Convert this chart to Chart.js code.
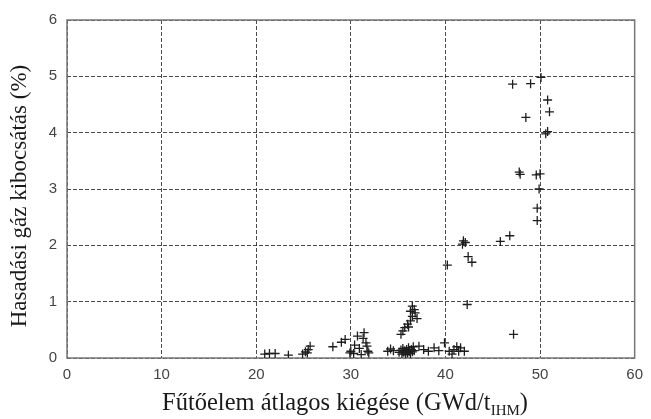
<!DOCTYPE html>
<html>
<head>
<meta charset="utf-8">
<script src="https://cdn.jsdelivr.net/npm/chart.js@4/dist/chart.umd.min.js"></script>
<style>
 html,body{margin:0;padding:0;background:#fff}
 #wrap{width:651px;height:419px}
</style>
</head>
<body>
<div id="wrap"><canvas id="fgr"></canvas></div>
<script>
// average burnup (GWd/tIHM) and fission gas release (%) per rod
const burnup=[
 20.9,21.4,22.0,23.4,24.9,25.2,25.5,25.7,25.4,
 28.1,29.0,29.4,29.9,30.0,30.4,30.7,30.9,31.1,31.4,31.6,31.7,31.8,31.9,30.3,31.3,
 33.9,34.2,34.5,
 35.1,35.3,35.4,35.5,35.6,35.7,35.8,35.9,36.0,36.1,36.2,36.3,36.4,36.5,36.6,36.7,35.5,36.0,
 35.3,35.5,35.7,36.0,36.3,36.5,36.3,36.7,36.5,36.8,37.0,36.1,
 37.2,37.7,38.2,38.8,39.3,39.9,40.4,40.7,40.9,41.4,41.6,42.0,41.2,
 42.3,40.2,41.9,42.1,41.8,42.4,42.8,45.8,46.8,47.2,
 49.7,49.7,49.9,49.6,50.0,47.9,47.8,50.6,50.8,48.5,51.0,50.8,47.1,49.0,50.1
];
const release=[
 0.07,0.08,0.08,0.05,0.07,0.11,0.15,0.21,0.09,
 0.20,0.28,0.33,0.09,0.12,0.23,0.39,0.17,0.06,0.45,0.27,0.21,0.12,0.09,0.08,0.35,
 0.12,0.16,0.13,
 0.10,0.14,0.07,0.17,0.10,0.13,0.06,0.15,0.09,0.18,0.12,0.08,0.15,0.11,0.20,0.13,0.12,0.11,
 0.42,0.48,0.54,0.60,0.66,0.74,0.83,0.86,0.92,0.80,0.70,0.55,
 0.21,0.15,0.12,0.18,0.13,0.27,0.12,0.07,0.15,0.12,0.18,0.12,0.20,
 0.95,1.65,2.08,2.05,2.02,1.80,1.70,2.07,2.17,0.42,
 2.44,2.66,3.00,3.25,3.27,3.26,3.30,3.98,4.02,4.27,4.37,4.58,4.86,4.87,4.98
];
const xRange=[0,60], xStep=10;
const yRange=[0,6], yStep=1;

const yTitle='Hasadási gáz kibocsátás (%)';
const xTitle=['Fűtőelem átlagos kiégése (GWd/t','IHM',')'];

const points=burnup.map((x,i)=>({x,y:release[i]}));

// plot frame on all four sides
const frame={
 id:'frame',
 beforeDatasetsDraw(chart){
  const {ctx,chartArea:a}=chart;
  ctx.save();
  ctx.strokeStyle='#777';
  ctx.lineWidth=1.5;
  ctx.strokeRect(a.left,a.top,a.right-a.left,a.bottom-a.top);
  ctx.restore();
 }
};

// axis titles; the x one carries a subscript unit
const titles={
 id:'titles',
 afterDraw(chart){
  const {ctx}=chart;
  const serif='"Liberation Serif", "Times New Roman", serif';
  ctx.save();
  ctx.fillStyle='#1a1a1a';
  ctx.textBaseline='alphabetic';

  const big='24.5px '+serif, small='15px '+serif;
  ctx.font=big; const w0=ctx.measureText(xTitle[0]).width, w2=ctx.measureText(xTitle[2]).width;
  ctx.font=small; const w1=ctx.measureText(xTitle[1]).width;
  let x=345-(w0+w1+w2)/2;
  const base=410;
  ctx.font=big; ctx.fillText(xTitle[0],x,base); x+=w0;
  ctx.font=small; ctx.fillText(xTitle[1],x,base+5); x+=w1;
  ctx.font=big; ctx.fillText(xTitle[2],x,base);

  ctx.translate(20,196);
  ctx.rotate(-Math.PI/2);
  ctx.font='23px '+serif;
  ctx.textAlign='center';
  ctx.textBaseline='middle';
  ctx.fillText(yTitle,0,0);
  ctx.restore();
 }
};

const gridCfg={color:'rgba(0,0,0,.7)',lineWidth:1,drawTicks:false};
const tickFont={family:'"Liberation Sans", Arial, sans-serif',size:15};

new Chart(document.getElementById('fgr'),{
 type:'scatter',
 data:{datasets:[{
  data:points,
  pointStyle:'cross',
  pointRadius:4.5,
  pointBorderWidth:1.3,
  borderColor:'#1e1e1e',
  backgroundColor:'#1e1e1e'
 }]},
 options:{
  responsive:true,
  maintainAspectRatio:false,
  animation:false,
  layout:{padding:{left:0,top:20,right:12,bottom:0}},
  plugins:{legend:{display:false},tooltip:{enabled:false}},
  scales:{
   x:{
    type:'linear',min:xRange[0],max:xRange[1],
    ticks:{stepSize:xStep,color:'#444',font:tickFont,padding:8,maxRotation:0},
    grid:{...gridCfg},
    border:{display:false,dash:[4,2]},
    afterFit(s){s.height=61;}
   },
   y:{
    type:'linear',min:yRange[0],max:yRange[1],
    ticks:{stepSize:yStep,color:'#444',font:tickFont,padding:10},
    grid:{...gridCfg},
    border:{display:false,dash:[4,2]},
    afterFit(s){s.width=67;}
   }
  }
 },
 plugins:[frame,titles]
});
</script>
</body>
</html>
